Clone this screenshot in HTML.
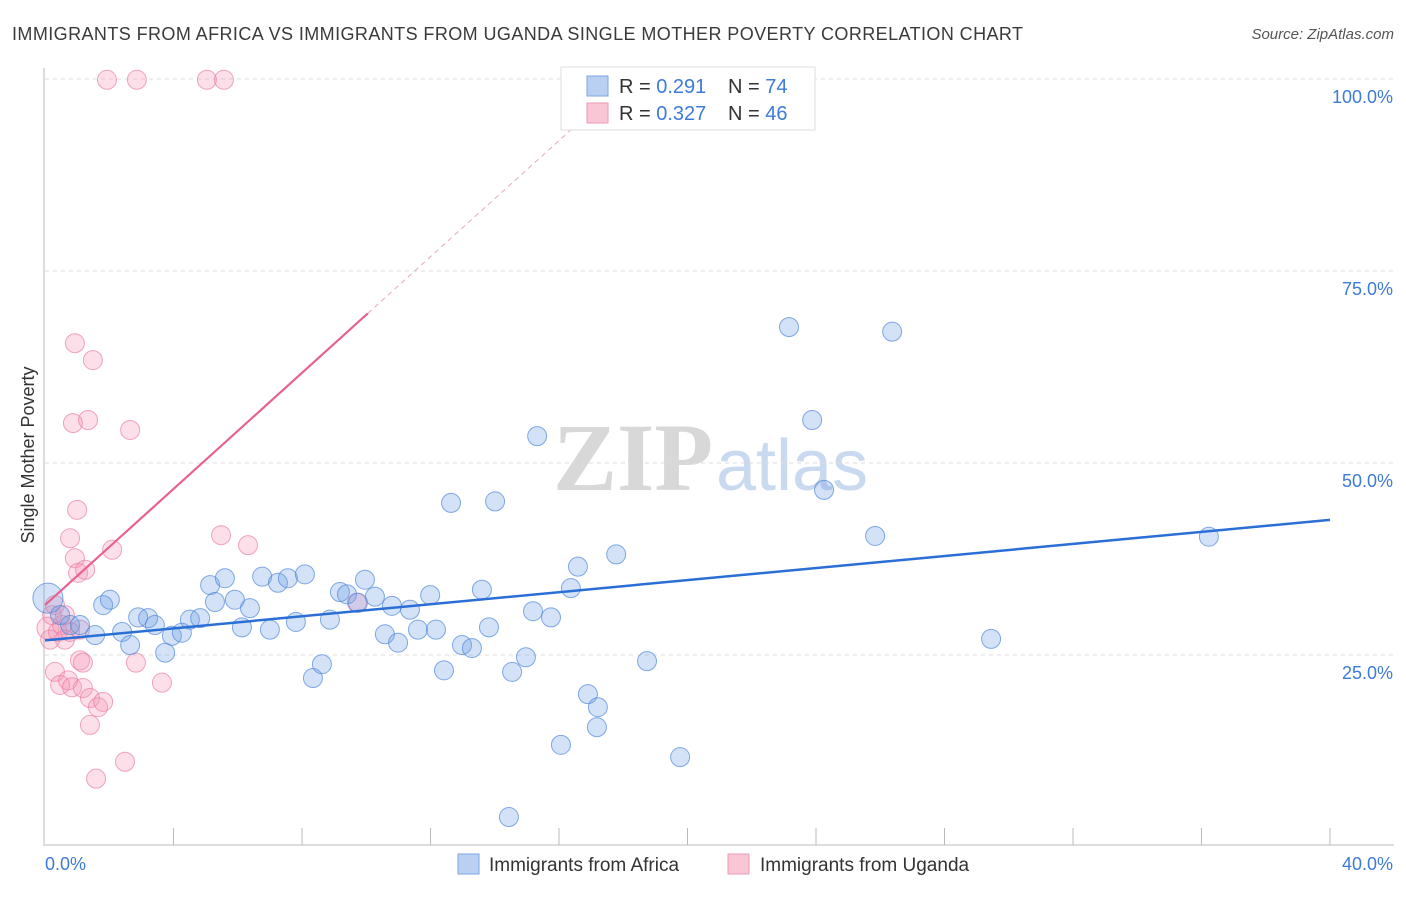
<!DOCTYPE html>
<html><head><meta charset="utf-8"><style>
body{margin:0;background:#fff;font-family:"Liberation Sans",sans-serif}
svg text{font-family:"Liberation Sans",sans-serif}
</style></head><body>
<svg id="chart" width="1406" height="892">
<text x="12" y="40" font-size="18" fill="#3a3a3a" textLength="1011">IMMIGRANTS FROM AFRICA VS IMMIGRANTS FROM UGANDA SINGLE MOTHER POVERTY CORRELATION CHART</text>
<text x="1394" y="39" font-size="15" font-style="italic" fill="#555" text-anchor="end">Source: ZipAtlas.com</text>
<text transform="translate(34,455) rotate(-90)" font-size="18" fill="#333" text-anchor="middle">Single Mother Poverty</text>
<g>
<text x="553" y="490" font-size="96" font-family="Liberation Serif" fill="#d8d8d8" font-weight="bold" style="font-family:'Liberation Serif',serif">ZIP</text>
<text x="716" y="490" font-size="72" fill="#c9d9f0">atlas</text>
</g>
<g id="grid"></g><g id="axes"></g><g id="marks"></g><g id="trends"></g>
<g>
<rect x="561" y="67" width="254" height="63" fill="#fff" stroke="#ddd"/>
<rect x="587" y="76" width="21" height="20" fill="#b9d0f2" stroke="#7ea6e0"/>
<rect x="587" y="103" width="21" height="20" fill="#f8c6d4" stroke="#ec9ab4"/>
<text x="619" y="93" font-size="20" fill="#333">R = <tspan fill="#3d7bd9">0.291</tspan></text>
<text x="728" y="93" font-size="20" fill="#333">N = <tspan fill="#3d7bd9">74</tspan></text>
<text x="619" y="120" font-size="20" fill="#333">R = <tspan fill="#3d7bd9">0.327</tspan></text>
<text x="728" y="120" font-size="20" fill="#333">N = <tspan fill="#3d7bd9">46</tspan></text>
</g>
<g>
<rect x="458" y="854" width="21" height="20" fill="#b9d0f2" stroke="#7ea6e0"/>
<text x="489" y="871" font-size="19" fill="#333">Immigrants from Africa</text>
<rect x="728" y="854" width="21" height="20" fill="#f8c6d4" stroke="#ec9ab4"/>
<text x="760" y="871" font-size="19" fill="#333">Immigrants from Uganda</text>
</g>
</svg>
<script>
const yTicks=[25,50,75,100];
const yTickLabels=["25.0%","50.0%","75.0%","100.0%"];
const xTickLabels=["0.0%","40.0%"];
const africaX=[0.09,0.47,0.78,1.09,1.56,1.81,2.02,2.40,2.65,2.90,3.21,3.42,3.74,3.95,4.26,4.51,4.83,5.14,5.29,5.60,5.91,6.13,6.38,6.76,7.00,7.25,7.56,7.81,8.09,8.34,8.62,8.87,9.18,9.40,9.74,9.96,10.27,10.58,10.80,10.99,11.36,11.61,11.99,12.17,12.42,12.64,12.98,13.29,13.60,13.82,14.01,14.54,14.44,14.97,15.19,15.32,15.75,16.06,16.37,16.59,16.90,17.21,17.18,17.78,18.74,19.77,23.16,23.88,24.25,25.84,26.37,29.45,36.23];
const africaY=[32.4,30.2,28.9,28.9,27.6,31.5,32.2,28.0,26.3,29.9,29.8,28.9,25.3,27.5,27.9,29.6,29.8,34.1,31.9,35.0,32.2,28.6,31.1,35.2,28.3,34.4,35.0,29.3,35.5,22.0,23.8,29.6,33.2,32.9,31.8,34.8,32.6,27.7,31.4,26.6,30.9,28.3,32.8,28.3,23.0,44.8,26.3,25.9,33.5,28.6,45.0,22.8,3.9,24.7,30.7,53.5,29.9,13.3,33.7,36.5,19.9,18.2,15.6,38.1,24.2,11.7,67.7,55.6,46.5,40.5,67.1,27.1,40.4];
const ugandaX=[0.09,0.22,0.31,0.40,0.53,0.62,0.31,0.47,0.72,0.84,0.93,0.87,1.00,0.78,0.93,1.03,1.25,1.09,1.18,1.34,1.49,1.18,1.40,1.65,1.81,2.09,1.40,1.59,1.93,2.49,2.65,2.86,2.83,3.64,5.04,5.57,5.48,6.32,9.71,0.78,1.09,0.16,0.62];
const ugandaY=[28.5,30.2,31.5,28.0,28.9,27.0,22.8,21.1,21.7,20.8,65.6,55.2,43.9,40.2,37.6,35.7,36.1,24.3,24.0,55.6,63.4,20.7,19.4,18.2,18.9,38.7,15.9,8.9,99.9,11.1,54.3,99.9,24.0,21.4,99.9,99.9,40.6,39.3,31.8,28.0,28.3,27.0,30.2];
const africaTrend=[26.9,42.6];
const ugandaTrend=[31.5,3.78];
const NS="http://www.w3.org/2000/svg";
const X0=45,X1=1330,Y0=847,Y100=79;
const sx=v=>X0+(v/40)*(X1-X0);
const sy=v=>Y0-(v/100)*(Y0-Y100);
function mk(tag,attrs,parent){const e=document.createElementNS(NS,tag);for(const k in attrs)e.setAttribute(k,attrs[k]);document.getElementById(parent).appendChild(e);return e;}
yTicks.forEach((t,i)=>{
 const g=mk('line',{x1:45,x2:1394,y1:sy(t),y2:sy(t),stroke:'#ddd','stroke-dasharray':'4,4'},'grid');
 
 
 const l=mk('text',{x:1393,y:sy(t)+24,'font-size':18,fill:'#3d7bd9','text-anchor':'end'},'axes');
 l.textContent=yTickLabels[i];
 
 
});
const ya=mk('line',{x1:44,x2:44,y1:68,y2:846,stroke:'#bbb'},'axes');


const xa=mk('line',{x1:45,x2:1394,y1:845,y2:845,stroke:'#bbb'},'axes');


for(let i=1;i<=10;i++){
 const t=mk('line',{x1:sx(i*4),x2:sx(i*4),y1:828,y2:845,stroke:'#bbb'},'axes');
 
 
}
const xl0=mk('text',{x:45,y:870,'font-size':18,fill:'#3d7bd9'},'axes');xl0.textContent=xTickLabels[0];


const xl1=mk('text',{x:1393,y:870,'font-size':18,fill:'#3d7bd9','text-anchor':'end'},'axes');xl1.textContent=xTickLabels[1];


ugandaX.forEach((x,i)=>{
 const c=mk('circle',{cx:sx(x),cy:sy(ugandaY[i]),r:i===0?11:9.5,fill:'rgba(244,150,180,0.3)',stroke:'rgba(232,130,165,0.7)','stroke-width':1},'marks');
 
 
});
africaX.forEach((x,i)=>{
 const c=mk('circle',{cx:sx(x),cy:sy(africaY[i]),r:i===0?15:9.5,fill:'rgba(110,160,230,0.3)',stroke:'rgba(80,135,220,0.7)','stroke-width':1},'marks');
 
 
});
const bt=mk('line',{x1:sx(0),y1:sy(africaTrend[0]),x2:sx(40),y2:sy(africaTrend[1]),stroke:'#2a6fd6','stroke-width':2.5},'trends');


const pEnd=10.05;
const pt=mk('line',{x1:sx(0),y1:sy(ugandaTrend[0]),x2:sx(pEnd),y2:sy(ugandaTrend[0]+ugandaTrend[1]*pEnd),stroke:'#e8628e','stroke-width':2.2},'trends');


const xEnd=(100-ugandaTrend[0])/ugandaTrend[1];
const pd=mk('line',{x1:sx(pEnd),y1:sy(ugandaTrend[0]+ugandaTrend[1]*pEnd),x2:sx(xEnd),y2:sy(100),stroke:'#e8a8bc','stroke-width':1,'stroke-dasharray':'5,4'},'trends');


</script>
</body></html>
